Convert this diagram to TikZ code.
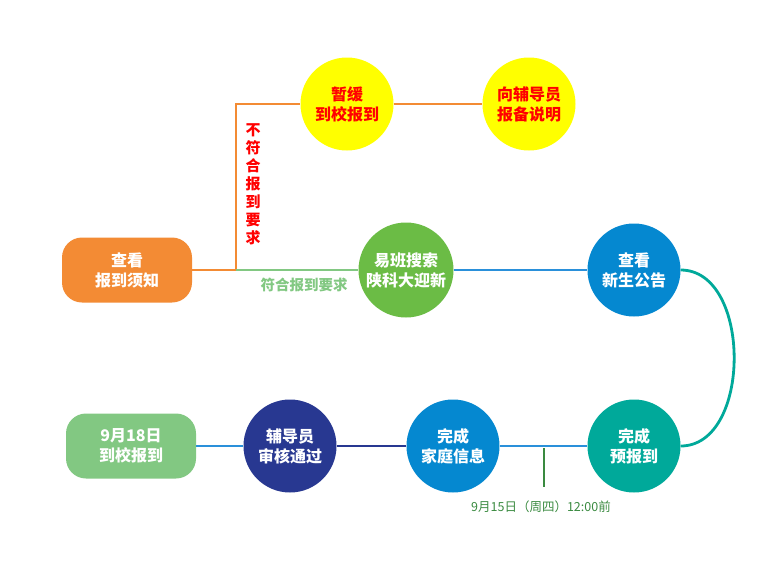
\documentclass[tikz,border=0pt]{standalone}
\usepackage{fontspec}
\setmainfont{Noto Sans CJK SC}
\definecolor{cOrange}{HTML}{F38B34}
\definecolor{cYellow}{HTML}{FFFF00}
\definecolor{cRed}{HTML}{FF0000}
\definecolor{cGreen}{HTML}{6BBC45}
\definecolor{cLight}{HTML}{82C882}
\definecolor{cBlue}{HTML}{0588D0}
\definecolor{cLine}{HTML}{2A90DA}
\definecolor{cTeal}{HTML}{00A99A}
\definecolor{cNavy}{HTML}{283891}
\definecolor{cDate}{HTML}{3A8A40}
\tikzset{
    stage/.style = {circle, minimum size = 93pt, inner sep = 0pt, align = center,
        text = white, font = \fontsize{16}{20}\selectfont\bfseries},
    card/.style = {rounded corners = 20pt, minimum width = 130pt, minimum height = 65pt,
        align = center, text = white, font = \fontsize{16}{20}\selectfont\bfseries},
    link/.style = {line width = 2.8pt}
}
\begin{document}
\begin{tikzpicture}[x = 1pt, y = -1pt]
            \useasboundingbox (0,0) rectangle (781,563);
            \node[card, fill = cOrange] (xuzhi) at (127,270) {查看\\报到须知};
            \node[stage, fill = cYellow, text = cRed] (huanbao) at (347,104) {暂缓\\到校报到};
            \node[stage, fill = cYellow, text = cRed] (baobei) at (529,104) {向辅导员\\报备说明};
            \node[stage, fill = cGreen, minimum size = 95pt] (yiban) at (406,270) {易班搜索\\陕科大迎新};
            \node[stage, fill = cBlue] (gonggao) at (634,270) {查看\\新生公告};
            \node[stage, fill = cTeal] (yubao) at (634,446) {完成\\预报到};
            \node[stage, fill = cBlue] (jiating) at (453,446) {完成\\家庭信息};
            \node[stage, fill = cNavy] (shenhe) at (290,446) {辅导员\\审核通过};
            \node[card, fill = cLight] (daoxiao) at (131,446) {9月18日\\到校报到};
            % branch
            \coordinate (fork) at (236,270);
            \coordinate (up) at (236,104);
            \draw[link, cOrange] (xuzhi.east) -- (fork) -- (up) -- (huanbao.west);
            \draw[link, cOrange] (huanbao) -- (baobei);
            \draw[link, cLight] (fork) -- (yiban.west);
            \node[text = cRed, align = center, font = \fontsize{15}{18}\selectfont\bfseries] (buhe) at (253,184) {不\\符\\合\\报\\到\\要\\求};
            \node[text = cLight, font = \fontsize{14.5}{17}\selectfont\bfseries] (fuhe) at (304,285) {符合报到要求};
            % main line
            \draw[link, cLine] (yiban) -- (gonggao);
            \draw[link, cTeal] (gonggao.east) .. controls (752,270) and (752,446) .. (yubao.east);
            \draw[link, cLine] (yubao) -- (jiating);
            \draw[link, cNavy] (jiating) -- (shenhe);
            \draw[link, cLine] (shenhe.west) -- (daoxiao.east);
            \coordinate (tick) at (544,448);
            \coordinate (tickend) at (544,487);
            \draw[line width = 1.5pt, cDate] (tick) -- (tickend);
            \node[text = cDate, font = \fontsize{12.5}{15}\selectfont] (deadline) at (541,507) {9月15日（周四）12:00前};
        \end{tikzpicture}
\end{document}
